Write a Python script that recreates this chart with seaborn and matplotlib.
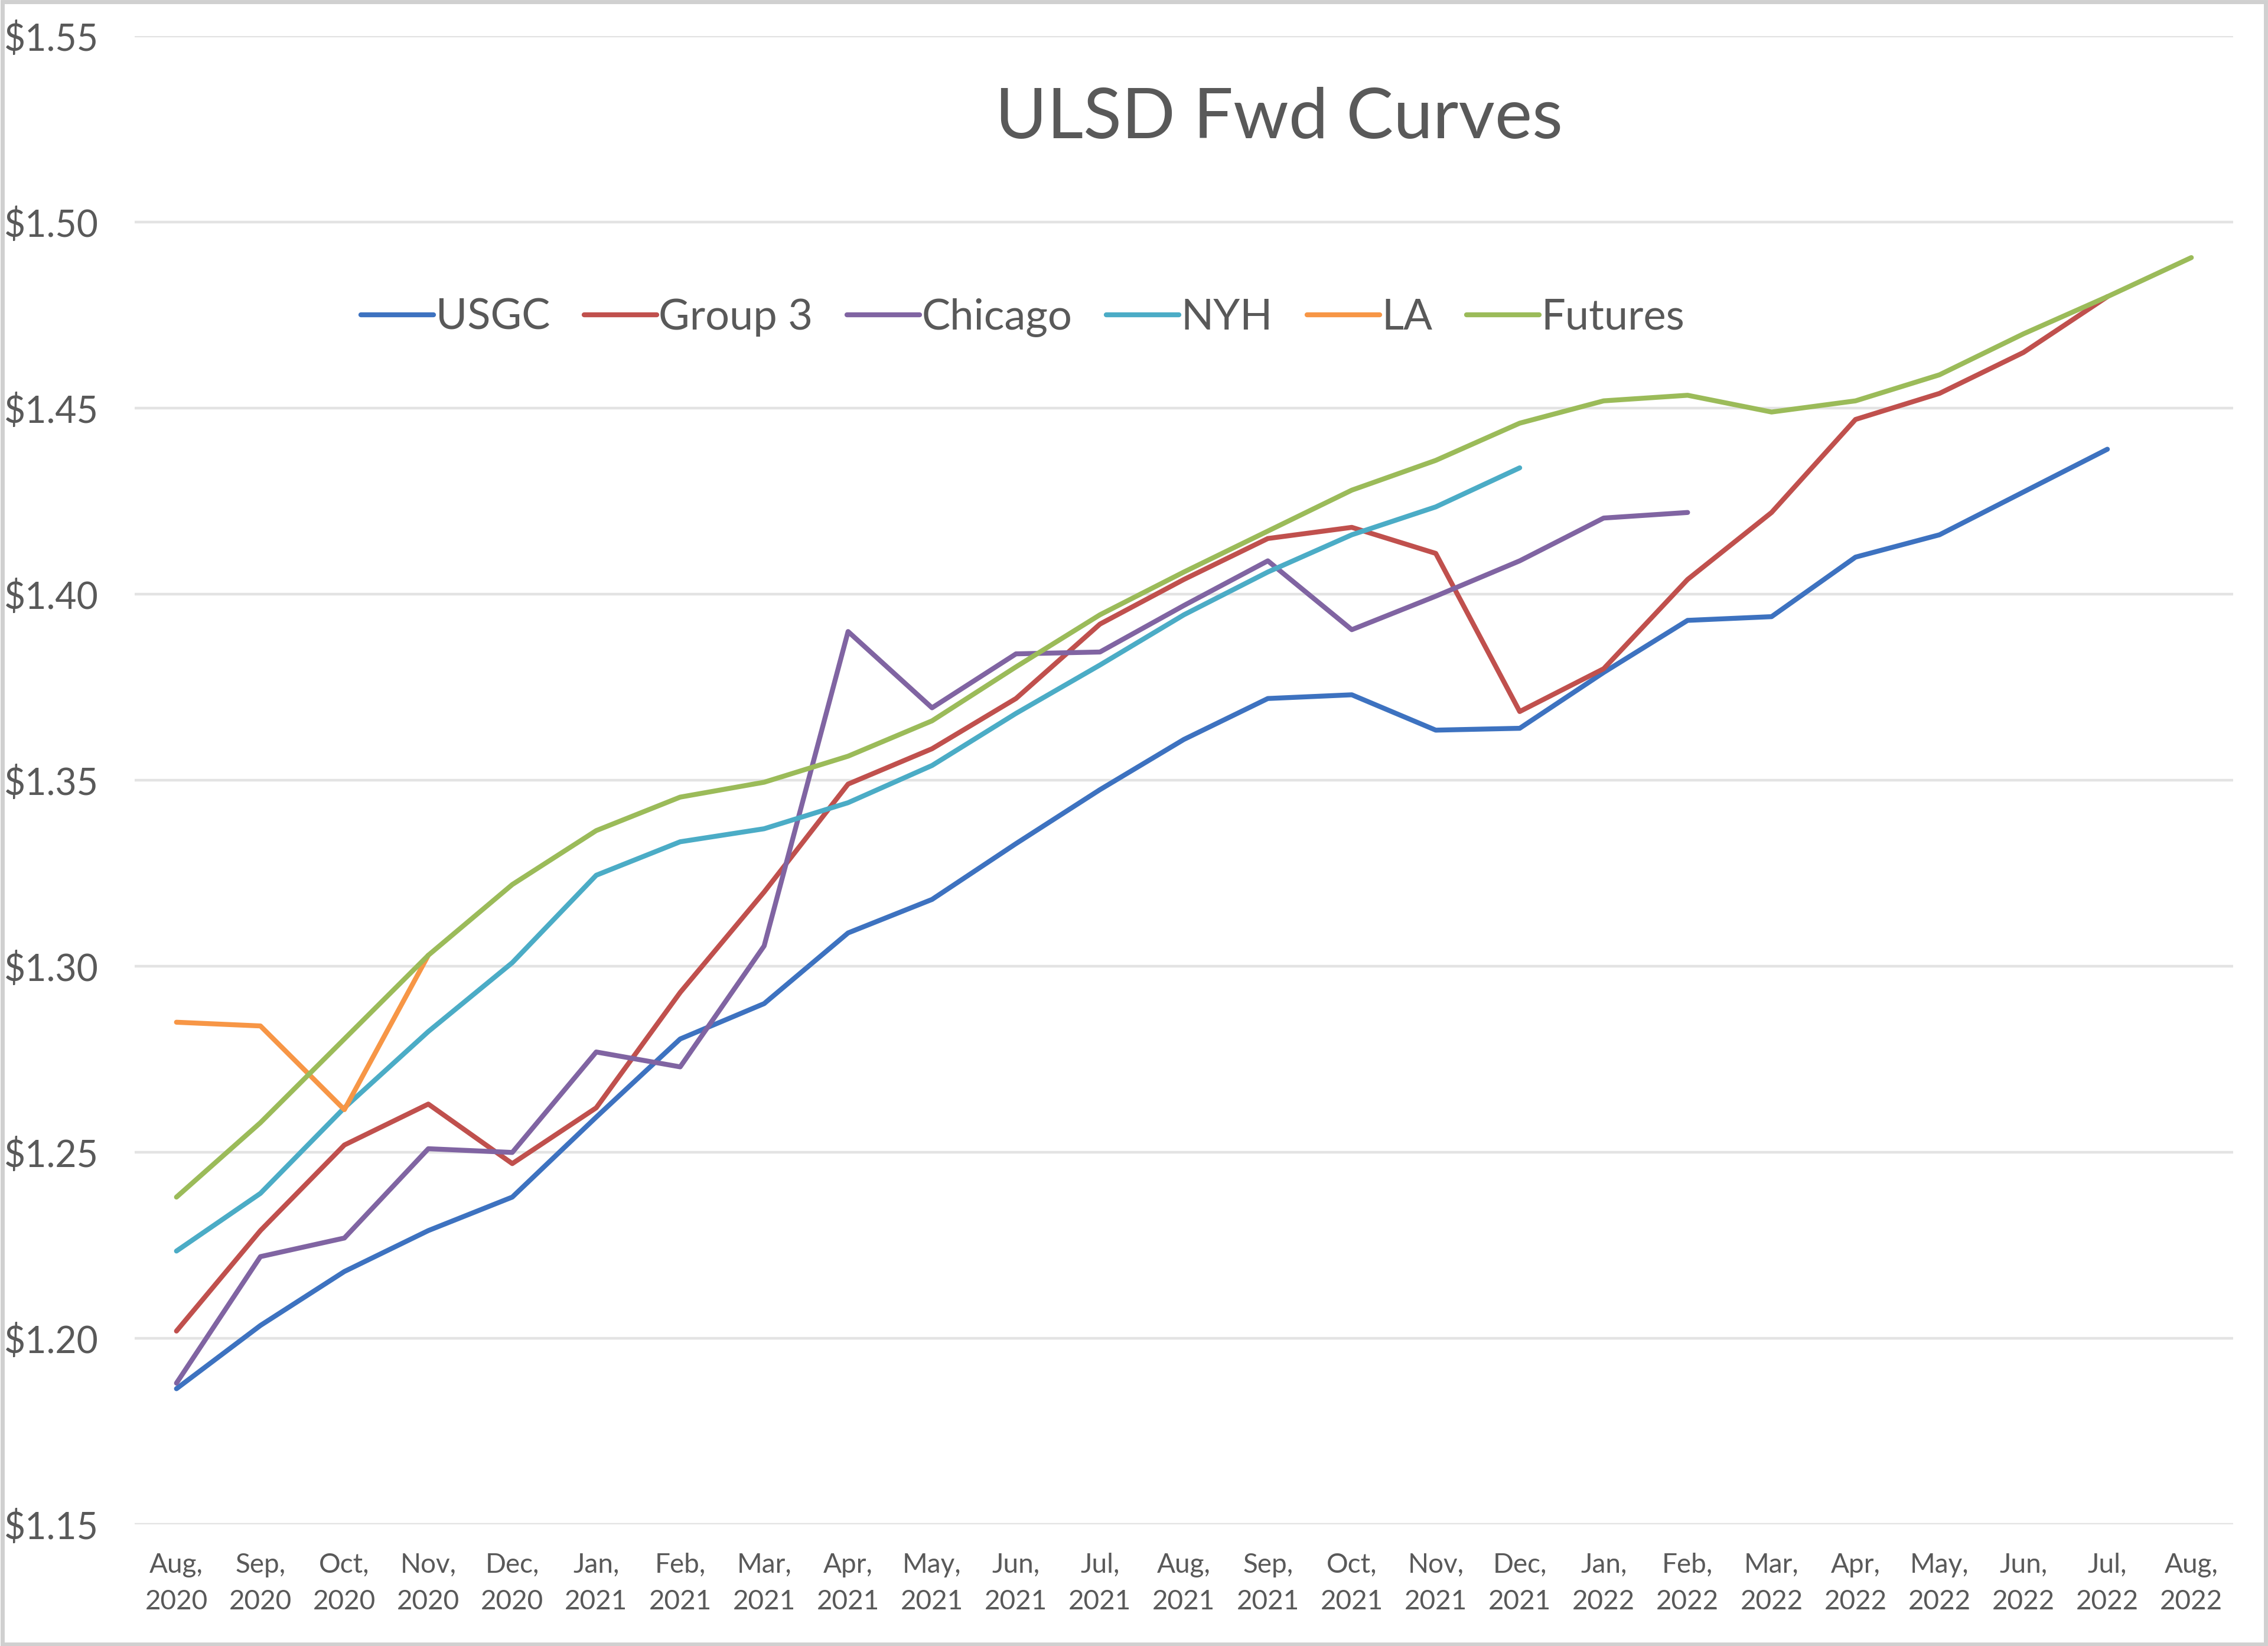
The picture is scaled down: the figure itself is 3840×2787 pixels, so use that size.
import numpy as np
import pandas as pd
import matplotlib.pyplot as plt
import seaborn as sns

# -------------------------------
# Data
# -------------------------------
months = ["Aug,\n2020", "Sep,\n2020", "Oct,\n2020", "Nov,\n2020", "Dec,\n2020",
          "Jan,\n2021", "Feb,\n2021", "Mar,\n2021", "Apr,\n2021", "May,\n2021",
          "Jun,\n2021", "Jul,\n2021", "Aug,\n2021", "Sep,\n2021", "Oct,\n2021",
          "Nov,\n2021", "Dec,\n2021", "Jan,\n2022", "Feb,\n2022", "Mar,\n2022",
          "Apr,\n2022", "May,\n2022", "Jun,\n2022", "Jul,\n2022", "Aug,\n2022"]

usgc = [1.1865, 1.2035, 1.218, 1.229, 1.238, 1.2595, 1.2805, 1.290, 1.309, 1.318,
        1.333, 1.3475, 1.361, 1.372, 1.373, 1.3635, 1.364, 1.379, 1.393, 1.394,
        1.410, 1.416, 1.4275, 1.439]
group3 = [1.202, 1.229, 1.252, 1.263, 1.247, 1.262, 1.293, 1.320, 1.349, 1.3585,
          1.372, 1.392, 1.404, 1.415, 1.418, 1.411, 1.3685, 1.380, 1.404, 1.422,
          1.447, 1.454, 1.465, 1.480]
chicago = [1.188, 1.222, 1.227, 1.251, 1.250, 1.277, 1.273, 1.3055, 1.390, 1.3695,
           1.384, 1.3845, 1.397, 1.409, 1.3905, 1.3995, 1.409, 1.4205, 1.422]
nyh = [1.2235, 1.239, 1.262, 1.2825, 1.301, 1.3245, 1.3335, 1.337, 1.344, 1.354,
       1.368, 1.381, 1.3945, 1.406, 1.416, 1.4235, 1.434]
la = [1.285, 1.284, 1.2615, 1.303]
futures = [1.238, 1.258, 1.2805, 1.303, 1.322, 1.3365, 1.3455, 1.3495, 1.3565, 1.366,
           1.3805, 1.3945, 1.406, 1.417, 1.428, 1.436, 1.446, 1.452, 1.4535, 1.449,
           1.452, 1.459, 1.470, 1.480, 1.4905]

series = {"USGC": usgc, "Group 3": group3, "Chicago": chicago,
          "NYH": nyh, "LA": la, "Futures": futures}
colors = ["#3D72C0", "#C0504D", "#8064A2", "#4BACC6", "#F79646", "#9BBB59"]

rows = []
for name, vals in series.items():
    for i, v in enumerate(vals):
        rows.append({"idx": i, "price": v, "series": name})
df = pd.DataFrame(rows)

# -------------------------------
# Plot
# -------------------------------
sns.set_style("white")
plt.rcParams['font.family'] = ['Lato', 'DejaVu Sans']
text_col = "#595959"

fig = plt.figure(figsize=(19.2, 13.935), dpi=200)
ax = fig.add_axes([0.0593, 0.0738, 0.9254, 0.9042])

sns.lineplot(data=df, x="idx", y="price", hue="series", palette=colors,
             hue_order=list(series.keys()), linewidth=3.0, ax=ax,
             legend=False, sort=False)

yticks = np.arange(1.15, 1.5501, 0.05)
ax.set_xlim(-0.5, len(months) - 0.5)
ax.set_ylim(1.15, 1.55)
ax.set_yticks(yticks)
ax.set_yticklabels([f"${v:.2f}" for v in yticks])
ax.set_xticks(range(len(months)))
ax.set_xticklabels(months, linespacing=1.6)
ax.tick_params(axis="y", labelsize=22.5, colors=text_col, pad=22, length=0)
ax.tick_params(axis="x", labelsize=16.5, colors=text_col, pad=17, length=0)
ax.set_xlabel("")
ax.set_ylabel("")

ax.grid(axis="y", color="#E3E3E3", linewidth=1.6)
ax.set_axisbelow(True)
for s in ax.spines.values():
    s.set_visible(False)

# Title
fig.text(0.564, 0.928, "ULSD Fwd Curves", ha="center", va="center",
         fontsize=43, color=text_col)

# Legend
handles = [plt.Line2D([0], [0], color=c, linewidth=3.0) for c in colors]
fig.legend(handles, list(series.keys()), loc="center", bbox_to_anchor=(0.451, 0.807),
           ncol=6, frameon=False, fontsize=26, handlelength=1.7, handletextpad=0.05,
           columnspacing=0.8, labelcolor=text_col)

# Outer chart border
fig.patches.append(plt.Rectangle((0.001, 0.001), 0.998, 0.998, transform=fig.transFigure,
                                 fill=False, edgecolor="#D0D0D0", linewidth=2.5))

fig.savefig("out.png", dpi=200, facecolor="white")
